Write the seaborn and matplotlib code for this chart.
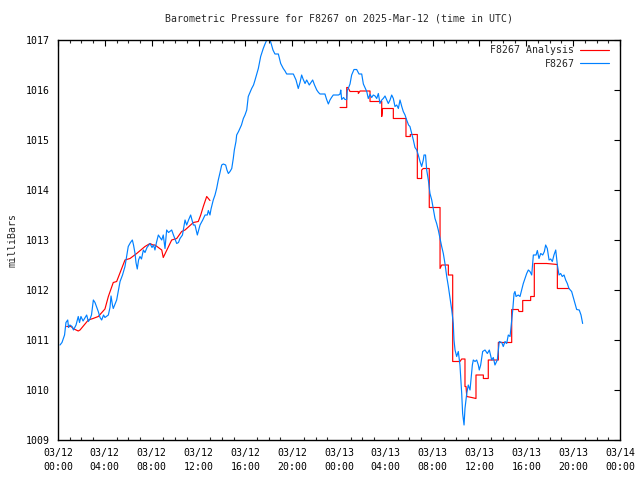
import numpy as np
import pandas as pd
import matplotlib
matplotlib.use("Agg")
import matplotlib.pyplot as plt
import seaborn as sns

title = "Barometric Pressure for F8267 on 2025-Mar-12 (time in UTC)"
ylabel = "milliBars"
xtick_hours = [0, 4, 8, 12, 16, 20, 24, 28, 32, 36, 40, 44, 48]
xtick_labels = ["03/12\n00:00", "03/12\n04:00", "03/12\n08:00", "03/12\n12:00",
                "03/12\n16:00", "03/12\n20:00", "03/13\n00:00", "03/13\n04:00",
                "03/13\n08:00", "03/13\n12:00", "03/13\n16:00", "03/13\n20:00",
                "03/14\n00:00"]
yticks = [1009, 1010, 1011, 1012, 1013, 1014, 1015, 1016, 1017]

# F8267 observations: hours since 03/12 00:00 UTC, pressure in mb
obs_hours = [
    0.17, 0.34, 0.56, 0.68, 0.83, 0.90, 1.02, 1.20, 1.32, 1.54, 1.73, 1.84, 1.96, 2.14,
    2.45, 2.59, 2.73, 2.86, 3.02, 3.16, 3.44, 3.59, 3.73, 3.89, 4.01, 4.30, 4.44, 4.53,
    4.65, 4.72, 4.87, 5.01, 5.17, 5.30, 5.51, 5.72, 5.85, 6.00, 6.19, 6.35, 6.45, 6.58,
    6.66, 6.77, 6.88, 7.00, 7.13, 7.29, 7.43, 7.60, 7.86, 8.03, 8.16, 8.28, 8.41, 8.57,
    8.71, 8.86, 8.99, 9.14, 9.28, 9.44, 9.71, 9.86, 10.14, 10.29, 10.42, 10.63, 10.85,
    10.99, 11.15, 11.33, 11.56, 11.70, 11.90, 12.13, 12.36, 12.56, 12.75, 12.84, 12.98,
    13.07, 13.26, 13.41, 13.55, 13.69, 13.84, 13.98, 14.12, 14.32, 14.43, 14.55, 14.69,
    14.84, 14.97, 15.06, 15.20, 15.26, 15.42, 15.54, 15.67, 15.83, 15.97, 16.12, 16.25,
    16.40, 16.54, 16.70, 16.83, 16.95, 17.11, 17.31, 17.53, 17.68, 17.83, 18.11, 18.24,
    18.36, 18.53, 18.82, 19.02, 19.24, 19.39, 19.53, 20.10, 20.33, 20.52, 20.67, 20.81,
    20.93, 21.10, 21.24, 21.46, 21.61, 21.75, 21.91, 22.10, 22.25, 22.38, 22.80, 22.93,
    23.09, 23.23, 23.36, 23.51, 23.96, 24.09, 24.15, 24.23, 24.39, 24.51, 24.66, 24.71,
    24.79, 24.94, 25.08, 25.28, 25.51, 25.71, 25.94, 26.08, 26.22, 26.37, 26.50, 26.65,
    26.79, 26.93, 27.08, 27.22, 27.36, 27.50, 27.65, 27.78, 27.93, 28.21, 28.36, 28.50,
    28.64, 28.78, 28.93, 29.07, 29.21, 29.36, 29.49, 29.64, 29.78, 29.94, 30.06, 30.21,
    30.35, 30.49, 30.64, 30.77, 30.92, 31.06, 31.20, 31.26, 31.39, 31.49, 31.63, 31.77,
    31.92, 32.05, 32.20, 32.34, 32.48, 32.63, 32.77, 32.91, 33.05, 33.20, 33.34, 33.48,
    33.63, 33.76, 33.82, 33.91, 34.05, 34.19, 34.33, 34.48, 34.56, 34.68, 34.76, 34.91,
    35.04, 35.19, 35.27, 35.39, 35.47, 35.62, 35.76, 35.90, 35.98, 36.10, 36.27, 36.47,
    36.67, 36.84, 37.04, 37.18, 37.32, 37.52, 37.69, 37.90, 38.03, 38.18, 38.32, 38.46,
    38.61, 38.75, 38.84, 38.95, 39.03, 39.12, 39.31, 39.46, 39.60, 39.74, 39.89, 40.03,
    40.17, 40.31, 40.46, 40.60, 40.83, 40.94, 41.08, 41.23, 41.40, 41.54, 41.65, 41.79,
    41.94, 42.08, 42.22, 42.36, 42.51, 42.65, 42.79, 42.93, 43.07, 43.22, 43.36, 43.50,
    43.64, 43.87, 44.07, 44.30, 44.52, 44.67, 44.81]
obs_mb = [
    1010.90, 1010.95, 1011.10, 1011.35, 1011.40, 1011.25, 1011.30, 1011.27, 1011.20, 1011.30,
    1011.47, 1011.35, 1011.47, 1011.38, 1011.50, 1011.37, 1011.42, 1011.50, 1011.80, 1011.75,
    1011.57, 1011.45, 1011.40, 1011.50, 1011.45, 1011.50, 1011.65, 1011.88, 1011.70, 1011.63,
    1011.72, 1011.80, 1012.00, 1012.17, 1012.30, 1012.47, 1012.65, 1012.87, 1012.95, 1013.00,
    1012.90, 1012.73, 1012.55, 1012.42, 1012.60, 1012.67, 1012.62, 1012.80, 1012.75, 1012.85,
    1012.93, 1012.85, 1012.90, 1012.80, 1012.95, 1013.10, 1013.05, 1013.00, 1013.10, 1012.83,
    1013.20, 1013.15, 1013.20, 1013.10, 1012.93, 1012.95, 1013.03, 1013.10, 1013.40, 1013.30,
    1013.40, 1013.50, 1013.30, 1013.30, 1013.10, 1013.30, 1013.40, 1013.50, 1013.50, 1013.59,
    1013.50, 1013.62, 1013.80, 1013.90, 1014.03, 1014.20, 1014.35, 1014.50, 1014.52, 1014.50,
    1014.40, 1014.33, 1014.37, 1014.43, 1014.63, 1014.80, 1014.97, 1015.10, 1015.17, 1015.23,
    1015.30, 1015.43, 1015.50, 1015.60, 1015.87, 1015.95, 1016.03, 1016.10, 1016.20, 1016.30,
    1016.43, 1016.67, 1016.83, 1016.92, 1017.00, 1017.00, 1016.90, 1016.80, 1016.72, 1016.72,
    1016.53, 1016.43, 1016.38, 1016.32, 1016.32, 1016.20, 1016.03, 1016.15, 1016.30, 1016.22,
    1016.13, 1016.20, 1016.10, 1016.15, 1016.20, 1016.10, 1016.00, 1015.95, 1015.92, 1015.92,
    1015.82, 1015.72, 1015.80, 1015.85, 1015.90, 1015.90, 1015.92, 1016.00, 1015.81, 1015.85,
    1015.81, 1015.81, 1016.00, 1016.03, 1016.12, 1016.30, 1016.41, 1016.41, 1016.32, 1016.32,
    1016.12, 1016.05, 1015.97, 1015.83, 1015.91, 1015.85, 1015.90, 1015.88, 1015.83, 1015.93,
    1015.73, 1015.80, 1015.83, 1015.88, 1015.73, 1015.80, 1015.90, 1015.83, 1015.67, 1015.70,
    1015.63, 1015.80, 1015.67, 1015.57, 1015.50, 1015.40, 1015.30, 1015.27, 1015.13, 1015.00,
    1014.85, 1014.80, 1014.70, 1014.57, 1014.47, 1014.60, 1014.70, 1014.70, 1014.40, 1014.20,
    1013.93, 1013.80, 1013.63, 1013.43, 1013.33, 1013.20, 1013.03, 1012.87, 1012.73, 1012.53,
    1012.27, 1012.07, 1011.85, 1011.60, 1011.33, 1011.00, 1010.80, 1010.67, 1010.77, 1010.50,
    1009.93, 1009.53, 1009.30, 1009.63, 1009.93, 1010.10, 1010.00, 1010.20, 1010.50, 1010.60,
    1010.57, 1010.60, 1010.50, 1010.40, 1010.50, 1010.77, 1010.80, 1010.73, 1010.80, 1010.60,
    1010.65, 1010.50, 1010.60, 1010.97, 1010.95, 1010.87, 1010.97, 1010.93, 1011.10, 1011.07,
    1011.40, 1011.60, 1011.93, 1011.97, 1011.87, 1011.90, 1011.87, 1012.00, 1012.13, 1012.23,
    1012.33, 1012.40, 1012.37, 1012.30, 1012.70, 1012.70, 1012.79, 1012.63, 1012.73, 1012.70,
    1012.77, 1012.90, 1012.83, 1012.60, 1012.62, 1012.57, 1012.70, 1012.80, 1012.50, 1012.30,
    1012.33, 1012.27, 1012.30, 1012.20, 1012.13, 1012.03, 1011.97, 1011.80, 1011.61, 1011.60,
    1011.50, 1011.33]

# F8267 Analysis: two segments
ana1_hours = [0.74, 1.11, 1.37, 1.73, 1.88, 2.59, 2.99, 3.44, 4.01, 4.30, 4.72, 5.01, 5.72,
              6.15, 6.72, 7.43, 7.86, 8.11, 8.28, 8.86, 8.99, 9.71, 10.14, 10.56, 10.85,
              11.56, 11.98, 12.19, 12.41, 12.70, 12.98]
ana1_mb = [1011.27, 1011.27, 1011.22, 1011.18, 1011.20, 1011.40, 1011.43, 1011.47, 1011.62,
           1011.87, 1012.15, 1012.17, 1012.60, 1012.63, 1012.73, 1012.87, 1012.93, 1012.90,
           1012.90, 1012.80, 1012.65, 1013.00, 1013.03, 1013.17, 1013.20, 1013.35, 1013.37,
           1013.50, 1013.67, 1013.87, 1013.79]
ana2_hours = [24.09, 24.66, 24.66, 24.77, 24.94, 25.65, 25.65, 25.80, 26.65, 26.65, 27.50,
              27.65, 27.65, 27.72, 28.64, 28.64, 29.72, 29.72, 30.09, 30.09, 30.69, 30.69,
              31.06, 31.06, 31.20, 31.49, 31.71, 31.71, 32.63, 32.63, 32.77, 33.34, 33.34,
              33.71, 33.71, 34.33, 34.48, 34.76, 34.76, 34.85, 34.91, 35.33, 35.70, 35.70,
              36.33, 36.33, 36.75, 36.75, 37.61, 37.61, 38.75, 38.75, 39.31, 39.37, 39.69,
              39.69, 40.37, 40.37, 40.68, 40.68, 41.74, 42.65, 42.65, 43.64]
ana2_mb = [1015.65, 1015.65, 1016.05, 1016.05, 1015.97, 1015.97, 1015.93, 1015.98, 1015.98,
           1015.77, 1015.77, 1015.77, 1015.47, 1015.63, 1015.63, 1015.43, 1015.43, 1015.07,
           1015.07, 1015.11, 1015.11, 1014.23, 1014.23, 1014.40, 1014.43, 1014.43, 1014.43,
           1013.65, 1013.65, 1012.43, 1012.50, 1012.50, 1012.30, 1012.30, 1010.57, 1010.57,
           1010.62, 1010.62, 1010.07, 1010.07, 1009.87, 1009.85, 1009.83, 1010.30, 1010.30,
           1010.23, 1010.23, 1010.60, 1010.60, 1010.95, 1010.95, 1011.61, 1011.61, 1011.57,
           1011.57, 1011.79, 1011.79, 1011.87, 1011.87, 1012.53, 1012.53, 1012.51, 1012.03,
           1012.03]

obs = pd.DataFrame({"hours": obs_hours, "mb": obs_mb})
ana = pd.concat([
    pd.DataFrame({"hours": ana1_hours, "mb": ana1_mb, "seg": 1}),
    pd.DataFrame({"hours": ana2_hours, "mb": ana2_mb, "seg": 2}),
], ignore_index=True)

sns.set_style("white")
plt.rcParams["font.family"] = ["DejaVu Sans Mono", "DejaVu Sans"]
plt.rcParams["font.size"] = 7.1

fig = plt.figure(figsize=(6.4, 4.8), dpi=100)
ax = fig.add_axes([58 / 640, 40 / 480, 562 / 640, 400 / 480])

sns.lineplot(data=ana, x="hours", y="mb", units="seg", estimator=None, sort=False,
             color="#ff0000", linewidth=0.85, label="F8267 Analysis", ax=ax)
sns.lineplot(data=obs, x="hours", y="mb", estimator=None, sort=False,
             color="#0080ff", linewidth=0.85, label="F8267", ax=ax)

ax.set_xlim(0, 48)
ax.set_ylim(1009, 1017)
ax.set_xticks(xtick_hours)
ax.set_xticklabels(xtick_labels)
ax.set_xticks(np.arange(0, 49, 1), minor=True)
ax.set_yticks(yticks)
ax.set_yticklabels([str(v) for v in yticks])
ax.tick_params(axis="both", which="major", direction="in", length=4, width=0.8,
               top=True, right=True, labelsize=7.1, colors="black")
ax.tick_params(axis="x", which="minor", direction="in", length=2, width=0.8,
               top=True, bottom=True)
ax.tick_params(axis="x", which="major", pad=6)
ax.tick_params(axis="y", which="major", pad=6)
for lbl in ax.get_xticklabels():
    lbl.set_linespacing(1.45)
for s in ax.spines.values():
    s.set_color("black")
    s.set_linewidth(1.0)

ax.set_xlabel("")
ax.set_ylabel(ylabel, fontsize=7.1, labelpad=6)
ax.set_title(title, fontsize=7.1, pad=13)
ax.grid(False)

handles, labels = ax.get_legend_handles_labels()
uniq_h, uniq_l = [], []
for h, l in zip(handles, labels):
    if l not in uniq_l:
        uniq_h.append(h)
        uniq_l.append(l)
leg = ax.legend(uniq_h, uniq_l, loc="upper right", frameon=False, markerfirst=False,
                fontsize=7.1, handlelength=2.9, handletextpad=0.6, labelspacing=0.35,
                borderaxespad=0.0, borderpad=0.55, bbox_to_anchor=(0.99, 1.0))

fig.savefig("out.png", dpi=100)
